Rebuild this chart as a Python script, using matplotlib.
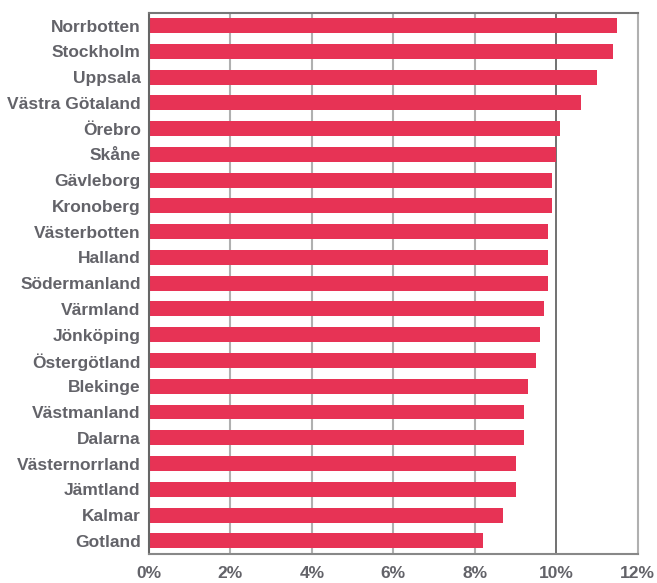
import matplotlib
matplotlib.use("Agg")
import matplotlib.pyplot as plt
from matplotlib.ticker import FuncFormatter

regions = ["Norrbotten", "Stockholm", "Uppsala", "Västra Götaland", "Örebro", "Skåne",
           "Gävleborg", "Kronoberg", "Västerbotten", "Halland", "Södermanland", "Värmland",
           "Jönköping", "Östergötland", "Blekinge", "Västmanland", "Dalarna",
           "Västernorrland", "Jämtland", "Kalmar", "Gotland"]
values = [11.5, 11.4, 11.0, 10.6, 10.1, 10.0, 9.9, 9.9, 9.8, 9.8, 9.8, 9.7,
          9.6, 9.5, 9.3, 9.2, 9.2, 9.0, 9.0, 8.7, 8.2]
xticks = [0, 2, 4, 6, 8, 10, 12]

plt.rcParams['font.family'] = ['Liberation Sans', 'DejaVu Sans']
text_color = "#636369"

fig = plt.figure(figsize=(6.57, 5.83), dpi=100)
ax = fig.add_axes([0.2268, 0.0503, 0.9706 - 0.2268, 0.9782 - 0.0503])

ypos = list(range(len(regions)))
for x in xticks[1:-1]:
    ax.axvline(x, color="#666666" if x == 10 else "#b0b0b0", lw=1.3 if x == 10 else 1.5, zorder=0)
ax.barh(ypos, values, height=0.58, color="#E73355", zorder=2)

ax.set_xlim(0, 12)
ax.set_ylim(len(regions) - 0.5, -0.5)
ax.set_yticks(ypos)
ax.set_yticklabels(regions, fontsize=12.5, fontweight="bold", color=text_color)
ax.set_xticks(xticks)
ax.xaxis.set_major_formatter(FuncFormatter(lambda v, p: f"{int(v)}%"))
for lab in ax.get_xticklabels():
    lab.set_fontsize(12.5)
    lab.set_fontweight("bold")
    lab.set_color(text_color)
ax.tick_params(axis="both", length=0)
ax.tick_params(axis="y", pad=6)
ax.tick_params(axis="x", pad=9)

ax.spines["left"].set_color("#666666")
ax.spines["left"].set_linewidth(1.5)
ax.spines["top"].set_color("#777777")
ax.spines["top"].set_linewidth(1.5)
ax.spines["right"].set_color("#b0b0b0")
ax.spines["right"].set_linewidth(1.5)
ax.spines["bottom"].set_color("#888888")
ax.spines["bottom"].set_linewidth(1.5)

fig.savefig("out.png", dpi=100)
